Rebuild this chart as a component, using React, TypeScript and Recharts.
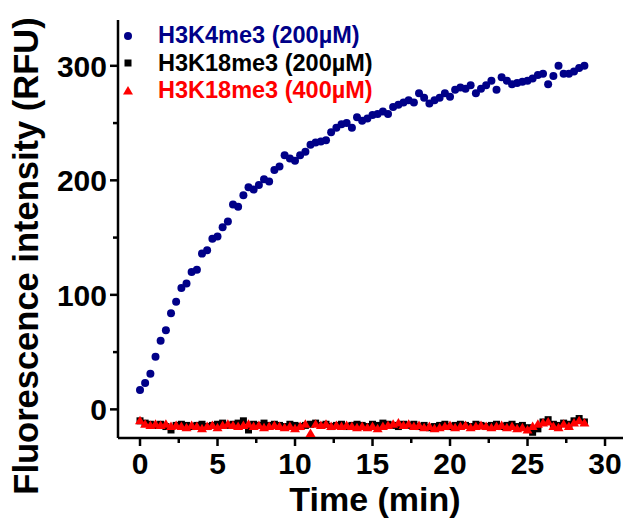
import React from 'react';
import { ScatterChart, Scatter, XAxis, YAxis, Legend } from 'recharts';

// sampling every 20 s, in minutes
const timeMin = [
  0, 0.33, 0.67, 1, 1.33, 1.67, 2, 2.33, 2.67, 3, 3.33, 3.67, 4, 4.33, 4.67,
  5, 5.33, 5.67, 6, 6.33, 6.67, 7, 7.33, 7.67, 8, 8.33, 8.67, 9, 9.33, 9.67,
  10, 10.33, 10.67, 11, 11.33, 11.67, 12, 12.33, 12.67, 13, 13.33, 13.67, 14, 14.33, 14.67,
  15, 15.33, 15.67, 16, 16.33, 16.67, 17, 17.33, 17.67, 18, 18.33, 18.67, 19, 19.33, 19.67,
  20, 20.33, 20.67, 21, 21.33, 21.67, 22, 22.33, 22.67, 23, 23.33, 23.67, 24, 24.33, 24.67,
  25, 25.33, 25.67, 26, 26.33, 26.67, 27, 27.33, 27.67, 28, 28.33, 28.67,
];

const h3k4me3_200 = [
  17, 23, 31, 46, 60, 69, 84, 94, 106, 110, 120, 122, 136, 139, 149, 151, 159, 164, 179, 177,
  187, 194, 192, 196, 201, 199, 209, 212, 222, 219, 217, 222, 225, 231, 233, 234, 235, 242, 246, 249, 250, 246,
  255, 252, 254, 257, 258, 260, 258, 264, 266, 268, 270, 268, 276, 272, 267, 270, 272, 276, 273, 279, 281, 280,
  283, 276, 280, 283, 287,
  279, 290, 287, 284, 285, 286, 287, 289, 292, 293, 284, 291, 300, 293, 293, 295, 298, 300,
];

const h3k18me3_200 = [
  -10, -12, -13, -14, -13, -15, -18, -14, -13, -14,
  -15, -14, -13, -15, -14, -13, -12, -14, -13, -12,
  -10, -18, -13, -14, -12, -14, -13, -14, -15, -13,
  -14, -15, -14, -13, -12, -14, -13, -15, -14, -13,
  -15, -14, -13, -14, -15, -13, -14, -12, -13, -14,
  -15, -13, -14, -13, -15, -14, -16, -15, -14, -13,
  -15, -14, -13, -14, -15, -13, -14, -15, -14, -13,
  -15, -14, -13, -15, -14, -16, -20, -17, -11, -9,
  -13, -14, -12, -13, -10, -8, -11,
];

const h3k18me3_400 = [
  -10, -13, -14, -13, -14, -13, -15, -14, -15, -16,
  -14, -15, -17, -15, -14, -16, -14, -13, -14, -15,
  -14, -13, -15, -14, -16, -15, -14, -15, -16, -15,
  -17, -15, -13, -21, -13, -14, -13, -15, -14, -15,
  -14, -15, -16, -15, -16, -15, -17, -15, -14, -13,
  -12, -14, -13, -15, -14, -16, -15, -17, -16, -15,
  -14, -16, -15, -14, -16, -15, -14, -15, -16, -15,
  -14, -16, -15, -17, -16, -18, -15, -13, -12, -11,
  -15, -16, -13, -15, -12, -10, -12,
];

const xTicks = [0, 2.5, 5, 7.5, 10, 12.5, 15, 17.5, 20, 22.5, 25, 27.5, 30];
const yTicks = [0, 50, 100, 150, 200, 250, 300];

const FONT = '"Liberation Sans", Arial, sans-serif';
const BLUE = '#000088';
const RED = '#ff0000';

const toPoints = (ys: number[]) => ys.map((v, i) => ({ t: timeMin[i], v }));

const series = [
  { name: 'H3K4me3 (200\u00b5M)', color: BLUE, shape: 'circle', data: toPoints(h3k4me3_200) },
  { name: 'H3K18me3 (200\u00b5M)', color: '#000000', shape: 'square', data: toPoints(h3k18me3_200) },
  { name: 'H3K18me3 (400\u00b5M)', color: RED, shape: 'triangle', data: toPoints(h3k18me3_400) },
];

const Marker = ({ cx, cy, shape, color }: any) => {
  if (shape === 'square') return <rect x={cx - 3.5} y={cy - 3.5} width={7} height={7} fill={color} />;
  if (shape === 'triangle')
    return <path d={`M${cx},${cy - 5} L${cx + 5},${cy + 3.5} L${cx - 5},${cy + 3.5} Z`} fill={color} />;
  return <circle cx={cx} cy={cy} r={4} fill={color} />;
};

const XTick = ({ x, y, payload }: any) => {
  const major = payload.value % 5 === 0;
  return (
    <g>
      <line x1={x} x2={x} y1={y} y2={y + (major ? 8 : 5)} stroke="#000" strokeWidth={2.5} />
      {major && (
        <text x={x} y={y + 36} textAnchor="middle" fontFamily={FONT} fontWeight="bold" fontSize={30} fill="#000">
          {payload.value}
        </text>
      )}
    </g>
  );
};

const YTick = ({ x, y, payload }: any) => {
  const major = payload.value % 100 === 0;
  return (
    <g>
      <line x1={x - (major ? 8 : 5)} x2={x} y1={y} y2={y} stroke="#000" strokeWidth={2.5} />
      {major && (
        <text x={x - 11} y={y + 11} textAnchor="end" fontFamily={FONT} fontWeight="bold" fontSize={30} fill="#000">
          {payload.value}
        </text>
      )}
    </g>
  );
};

const LegendBox = () => (
  <div style={{ fontFamily: FONT, fontWeight: 'bold', fontSize: 23.5, lineHeight: '27.5px' }}>
    {series.map((s) => (
      <div key={s.name} style={{ display: 'flex', alignItems: 'center', color: s.color, whiteSpace: 'nowrap' }}>
        <svg width={40} height={14}>
          <Marker cx={10} cy={7} shape={s.shape} color={s.color} />
        </svg>
        <span>{s.name}</span>
      </div>
    ))}
  </div>
);

export default function App() {
  return (
    <div style={{ position: 'absolute', left: 0, top: 0, background: '#fff' }}>
      <ScatterChart width={635} height={522} margin={{ top: 20, right: 12, bottom: 24, left: 0 }}>
        <XAxis
          type="number"
          dataKey="t"
          domain={[-1.42, 31.16]}
          allowDataOverflow
          ticks={xTicks}
          interval={0}
          tickSize={0}
          tickMargin={0}
          tickLine={false}
          tick={<XTick />}
          height={60}
          axisLine={{ stroke: '#000', strokeWidth: 2.5 }}
          label={() => (
            <text x={375} y={511} textAnchor="middle" fontFamily={FONT} fontWeight="bold" fontSize={34} fill="#000">
              Time (min)
            </text>
          )}
        />
        <YAxis
          type="number"
          dataKey="v"
          domain={[-25, 340]}
          allowDataOverflow
          ticks={yTicks}
          interval={0}
          tickSize={0}
          tickMargin={0}
          tickLine={false}
          tick={<YTick />}
          width={118}
          axisLine={{ stroke: '#000', strokeWidth: 2.5 }}
          label={() => (
            <text
              x={0}
              y={0}
              transform="translate(38,256) rotate(-90)"
              textAnchor="middle"
              fontFamily={FONT}
              fontWeight="bold"
              fontSize={34.5}
              fill="#000"
            >
              Fluorescence intensity (RFU)
            </text>
          )}
        />
        <Legend
          layout="vertical"
          align="center"
          verticalAlign="middle"
          content={<LegendBox />}
          wrapperStyle={{ left: 118, top: 22, width: 'auto', height: 'auto' }}
        />
        {series.map((s) => (
          <Scatter
            key={s.name}
            name={s.name}
            data={s.data}
            fill={s.color}
            isAnimationActive={false}
            shape={(p: any) => <Marker cx={p.cx} cy={p.cy} shape={s.shape} color={s.color} />}
          />
        ))}
      </ScatterChart>
    </div>
  );
}
